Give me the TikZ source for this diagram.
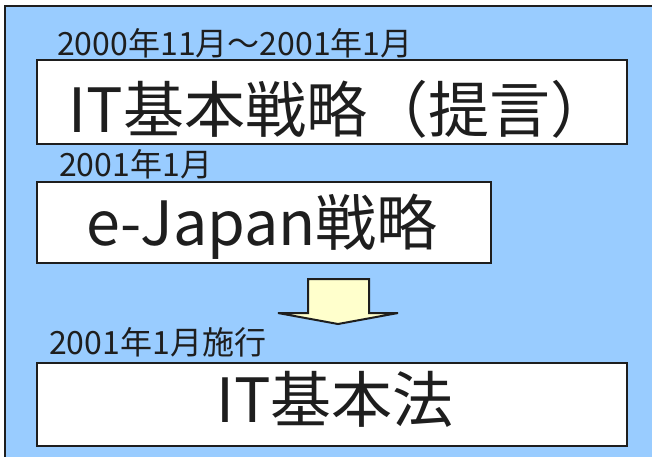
\documentclass[tikz,border=0pt]{standalone}
\usepackage{fontspec}
\setmainfont{Noto Sans CJK JP}
\definecolor{bg}{HTML}{99CCFF}
\definecolor{arr}{HTML}{FFFFCC}
\definecolor{ink}{HTML}{1E1E1E}
\begin{document}
\begin{tikzpicture}[x=1pt,y=-1pt,
  box/.style={draw=ink,line width=2pt,fill=white,rectangle,inner sep=0pt,anchor=north west},
  bigtext/.style={text=ink,inner sep=0pt,anchor=base,font=\fontsize{61}{61}\selectfont},
  datetext/.style={text=ink,inner sep=0pt,anchor=base west,font=\fontsize{32}{32}\selectfont},
  arrowshape/.style={draw=ink,line width=2pt,fill=arr,line join=miter}]
\useasboundingbox (0,0) rectangle (652,456);
\fill[white] (0,0) rectangle (652,456);
\draw[fill=bg,draw=ink,line width=2.5pt] (5,6) rectangle (700,520);
% boxes
\node[box,minimum width=590pt,minimum height=84pt] (b1) at (36,59) {};
\node[box,minimum width=454pt,minimum height=81pt] (b2) at (36,181) {};
\node[box,minimum width=590pt,minimum height=83pt] (b3) at (36,362) {};
% texts
\node[bigtext] (t1) at (340,132) {IT基本戦略（提言）};
\node[bigtext] (t2) at (262,245) {e-Japan戦略};
\node[bigtext] (t3) at (335,422) {IT基本法};
\node[datetext] (d1) at (57,55) {2000年11月～2001年1月};
\node[datetext] (d2) at (59,176) {2001年1月};
\node[datetext] (d3) at (49,354) {2001年1月施行};
% arrow
\draw[arrowshape] (308,279) -- (369,279) -- (369,313) -- (398,313) -- (338,324) -- (278,313) -- (308,313) -- cycle;
\end{tikzpicture}
\end{document}
